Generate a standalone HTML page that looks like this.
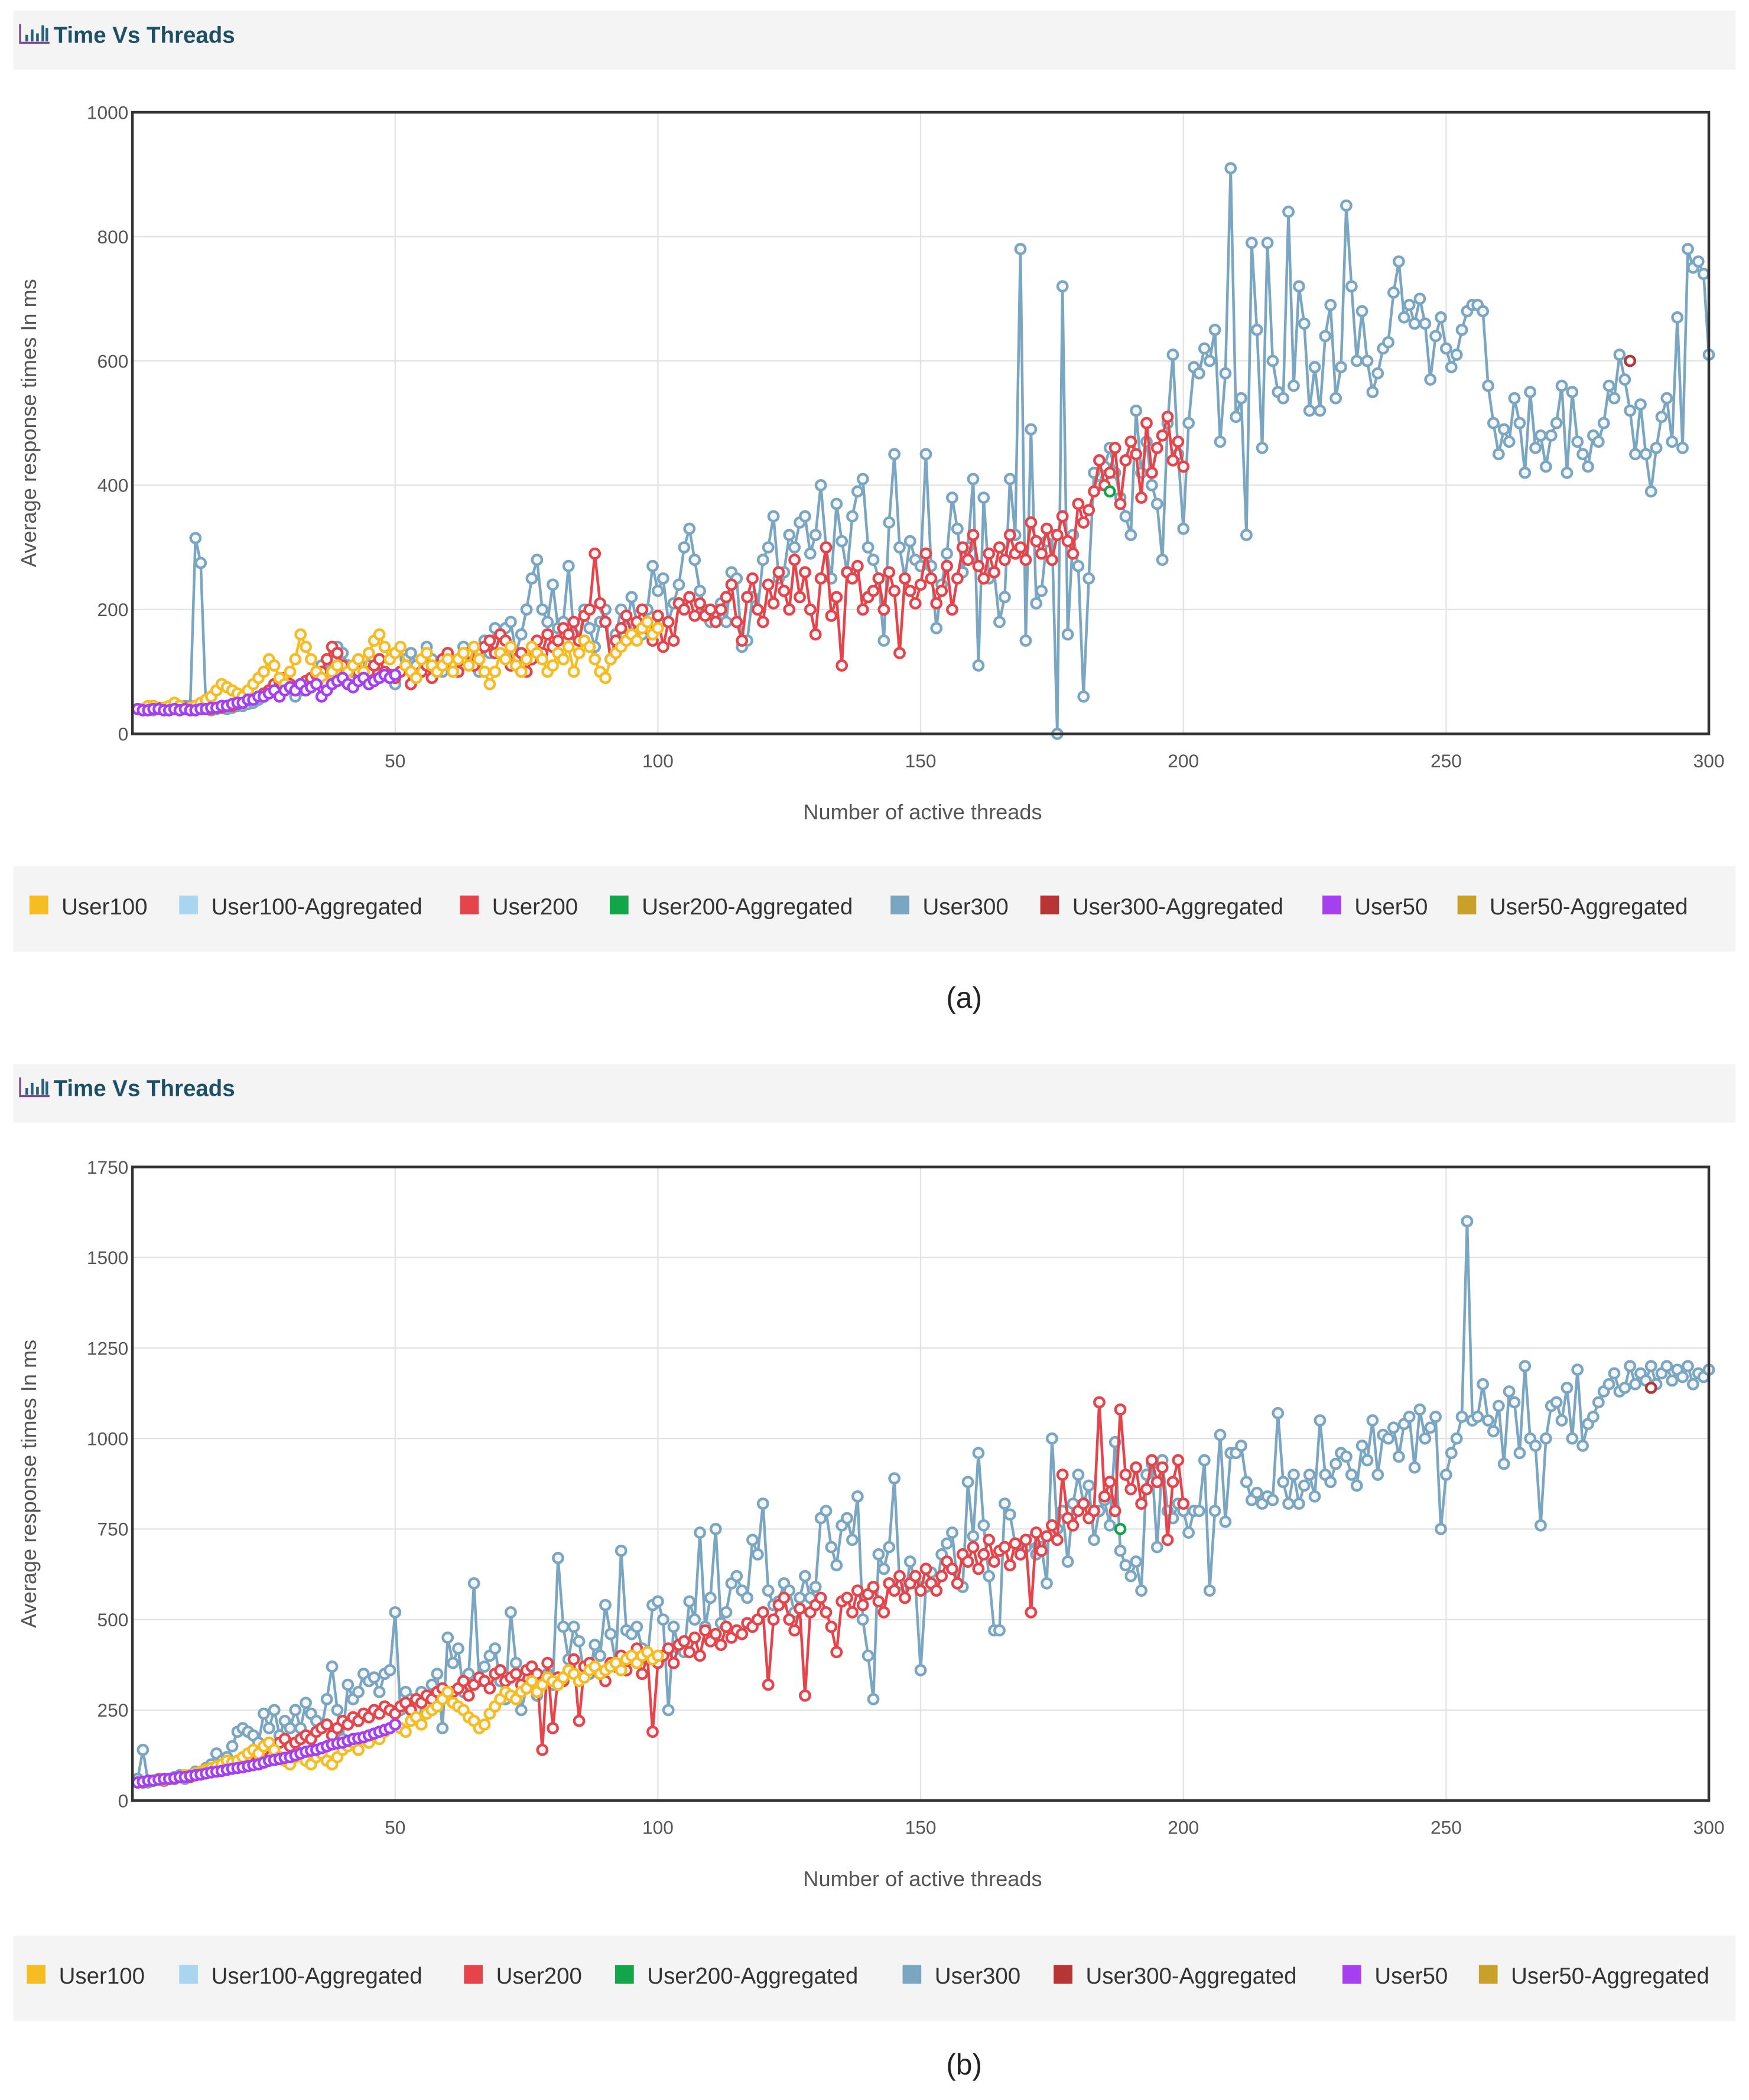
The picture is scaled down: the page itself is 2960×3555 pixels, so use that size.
<!DOCTYPE html>
<html><head><meta charset="utf-8"><style>
html,body{margin:0;padding:0;background:#fff;}
svg{display:block;font-family:"Liberation Sans",sans-serif;}
</style></head><body>
<svg id="root" width="2960" height="3555" viewBox="0 0 1308 1571" xmlns="http://www.w3.org/2000/svg"></svg>
<script>
// ---------- Chart (a) data ----------
const aUser300 = [40,40,40,38,40,42,40,40,42,45, 45,315,275,40,38,40,42,40,42,45, 45,48,50,55,60,70,80,90,85,75, 60,70,80,90,100,110,100,120,140,130, 110,100,120,90,110,100,120,100,90,80, 100,120,130,110,100,140,120,110,100,130, 110,100,140,120,110,100,150,130,170,160, 170,180,130,160,200,250,280,200,180,240, 170,180,270,160,150,200,170,140,180,200, 120,160,200,170,220,180,160,200,270,230, 250,180,210,240,300,330,280,230,200,180, 190,210,180,260,250,140,150,220,200,280, 300,350,250,260,320,300,340,350,290,320, 400,300,250,370,310,260,350,390,410,300, 280,250,150,340,450,300,250,310,280,270, 450,270,170,240,290,380,330,260,300,410, 110,380,250,260,180,220,410,320,780,150, 490,210,230,310,320,0,720,160,320,270, 60,250,420,400,430,460,420,380,350,320, 520,420,470,400,370,280,500,610,450,330, 500,590,580,620,600,650,470,580,910,510, 540,320,790,650,460,790,600,550,540,840, 560,720,660,520,590,520,640,690,540,590, 850,720,600,680,600,550,580,620,630,710, 760,670,690,660,700,660,570,640,670,620, 590,610,650,680,690,690,680,560,500,450, 490,470,540,500,420,550,460,480,430,480, 500,560,420,550,470,450,430,480,470,500, 560,540,610,570,520,450,530,450,390,460, 510,540,470,670,460,780,750,760,740,610];
const aUser200 = [40,40,40,40,42,42,40,40,40,42, 42,45,45,40,40,42,42,45,45,48, 50,55,55,60,65,70,80,85,90,80, 75,80,85,90,95,100,120,140,130,110, 100,110,100,90,100,110,120,100,95,90, 100,110,80,90,100,110,90,100,120,130, 110,100,120,130,110,120,140,150,130,160, 150,110,120,130,100,120,150,130,160,140, 150,170,160,180,150,190,200,290,210,180, 120,150,170,190,160,180,200,170,150,190, 140,180,150,210,200,220,190,210,190,200, 180,200,220,240,180,150,220,250,200,180, 240,210,260,230,200,280,220,260,200,160, 250,300,190,220,110,260,250,270,200,220, 230,250,200,260,230,130,250,230,210,240, 290,250,210,230,270,200,250,300,280,320, 270,250,290,260,300,280,320,290,300,280, 340,310,290,330,280,320,350,310,290,370, 340,360,390,440,400,420,460,370,440,470, 450,380,500,420,460,480,510,440,470,430];
const aUser100 = [40,40,45,45,40,42,45,50,45,40, 42,45,50,55,60,70,80,75,70,65, 60,70,80,90,100,120,110,90,80,100, 120,160,140,120,100,90,80,100,110,90, 100,110,120,100,130,150,160,140,120,130, 140,110,100,90,120,130,110,100,110,120, 100,120,130,110,140,120,100,80,100,130, 120,140,110,100,120,140,130,120,100,110, 130,120,140,100,130,150,140,120,100,90, 120,130,140,150,160,150,170,180,160,170];
const aUser50 = [40,38,38,40,40,38,38,40,38,40, 38,38,40,40,42,42,45,45,48,50, 50,55,55,60,60,65,70,60,70,75, 70,80,70,75,80,60,70,80,85,90, 80,75,85,90,80,85,90,95,90,95];
const aAggX = [186, 285];
const aAggY = [390, 600];

// ---------- Chart (b) data ----------
const bUser300 = [60,140,50,55,60,55,60,65,70,60, 70,80,75,90,100,130,110,120,150,190, 200,190,180,160,240,200,250,180,220,200, 250,200,270,240,220,200,280,370,250,170, 320,280,300,350,330,340,300,350,360,520, 250,300,280,250,300,260,320,350,200,450, 380,420,300,350,600,330,370,400,420,330, 280,520,380,250,310,330,290,340,350,320, 670,480,390,480,440,340,350,430,400,540, 460,380,690,470,460,480,420,390,540,550, 500,250,480,420,410,550,500,740,480,560, 750,490,520,600,620,580,560,720,680,820, 580,540,550,600,580,520,560,620,560,590, 780,800,700,650,760,780,720,840,500,400, 280,680,640,700,890,600,560,660,600,360, 590,630,580,680,710,740,600,590,880,730, 960,760,620,470,470,820,790,710,700,700, 720,680,700,600,1000,750,800,660,820,900, 820,870,720,800,830,760,990,690,650,620, 660,580,900,930,700,940,800,780,820,800, 740,800,800,940,580,800,1010,770,960,960, 980,880,830,850,820,840,830,1070,880,820, 900,820,870,900,840,1050,900,880,930,960, 950,900,870,980,940,1050,900,1010,1000,1030, 950,1040,1060,920,1080,1000,1030,1060,750,900, 960,1000,1060,1600,1050,1060,1150,1050,1020,1090, 930,1130,1100,960,1200,1000,980,760,1000,1090, 1100,1050,1140,1000,1190,980,1040,1060,1100,1130, 1150,1180,1130,1140,1200,1150,1180,1160,1200,1150, 1180,1200,1160,1190,1170,1200,1150,1180,1170,1190];
const bUser200 = [50,50,55,55,60,55,60,60,65,70, 65,70,75,80,85,90,95,100,100,110, 110,120,130,120,140,150,140,160,170,150, 160,170,180,170,190,200,210,180,200,220, 210,230,220,240,230,250,240,260,250,240, 260,270,250,280,270,290,280,300,310,290, 300,310,330,290,320,340,330,310,350,360, 330,340,350,320,360,370,350,140,380,200, 340,330,360,390,220,370,380,360,350,330, 380,370,400,360,390,420,350,400,190,380, 400,420,380,430,440,410,450,400,470,440, 460,430,480,450,470,460,490,480,500,520, 320,500,540,560,500,470,530,290,520,540, 560,520,480,410,550,560,520,580,540,570, 590,550,520,600,580,620,560,600,620,580, 640,600,580,620,660,640,600,680,660,700, 640,680,720,660,690,700,650,710,680,720, 520,740,690,730,760,720,900,780,760,800, 820,780,800,1100,840,880,800,1080,900,860, 920,820,860,940,880,920,720,880,940,820];
const bUser100 = [50,52,55,55,60,58,60,62,65,70, 70,75,80,85,90,95,100,110,105,110, 120,130,140,130,150,160,140,120,110,100, 120,130,110,100,120,130,110,100,120,140, 150,160,140,170,160,180,170,190,200,210, 200,190,220,230,210,240,250,260,280,300, 270,260,250,230,220,200,210,240,260,280, 300,290,280,300,310,330,300,320,340,330, 320,340,360,350,330,340,360,370,350,360, 370,380,360,390,400,380,400,410,390,400];
const bUser50 = [50,52,55,55,58,60,60,62,65,65, 68,70,72,75,78,80,82,85,88,90, 92,95,98,100,105,110,112,115,118,120, 125,130,135,138,140,145,150,155,158,160, 165,170,172,175,180,185,190,195,200,210];
const bAggX = [188, 289];
const bAggY = [750, 1140];

// ---------- drawing ----------
const NS = "http://www.w3.org/2000/svg";
const root = document.getElementById('root');
function mk(tag, attrs, parent){
  const e = document.createElementNS(NS, tag);
  for (const k in attrs) e.setAttribute(k, attrs[k]);
  (parent||root).appendChild(e);
  return e;
}
const COLORS = {u100:'#f5bd22', u100a:'#a9d5f0', u200:'#e5454a', u200a:'#12a54a', u300:'#7ba6c1', u300a:'#b83535', u50:'#a53ff0', u50a:'#c9a02a'};

function drawChart(cfg){
  const g = mk('g', {});
  
  
  const hb = mk('rect', {x:10, y:cfg.headY, width:1288, height:44, fill:'#f4f4f4'}, g);
  
  
  const ic = mk('g', {}, g);
  
  
  const iy = cfg.headY + 24;
  mk('path', {d:`M15 ${iy-14} V${iy} H37`, stroke:'#7a4a8a', 'stroke-width':1.5, fill:'none'}, ic);
  [[19,5],[23,9],[27,6],[31,12],[34,10]].forEach(b=>mk('rect',{x:b[0],y:iy-b[1]-1,width:2,height:b[1],fill:'#2a5f7a'},ic));
  const tt = mk('text', {x:40, y:iy, 'font-size':17, 'font-weight':'bold', fill:'#1d4f66'}, g);
  tt.textContent = 'Time Vs Threads';
  
  

  const L = 99, R = 1278, T = cfg.top, B = cfg.bottom;
  const xs = v => L + (v/300)*(R-L);
  const ys = v => B - (v/cfg.ymax)*(B-T);
  cfg.yticks.forEach(t=>{
    const gl = mk('line', {x1:L, x2:R, y1:ys(t), y2:ys(t), stroke:'#e2e2e2', 'stroke-width':1}, g);
    
    
    const tl = mk('text', {x:L-3, y:ys(t)+5, 'font-size':14, fill:'#555', 'text-anchor':'end'}, g);
    tl.textContent = t;
    
    
  });
  cfg.xticks.forEach(t=>{
    const gl = mk('line', {x1:xs(t), x2:xs(t), y1:T, y2:B, stroke:'#e2e2e2', 'stroke-width':1}, g);
    
    
    const tl = mk('text', {x:xs(t), y:B+25, 'font-size':14, fill:'#555', 'text-anchor':'middle'}, g);
    tl.textContent = t;
    
    
  });
  cfg.series.forEach(s=>{
    const sg = mk('g', {}, g);
    
    
    const pts = s.vals.map((v,i)=>[xs(i+1), ys(v)]);
    const ln = mk('polyline', {points:pts.map(p=>p.join(',')).join(' '), fill:'none', stroke:s.color, 'stroke-width':2}, sg);
    
    
    pts.forEach(p=>{
      const c = mk('circle', {cx:p[0], cy:p[1], r:3.6, fill:'#f4f8fb', stroke:s.color, 'stroke-width':2}, sg);
      
      
    });
  });
  [[COLORS.u200a,'user200-aggregated-point'],[COLORS.u300a,'user300-aggregated-point']].forEach((a,i)=>{
    const c = mk('circle', {cx:xs(cfg.aggX[i]), cy:ys(cfg.aggY[i]), r:3.6, fill:'#fff', stroke:a[0], 'stroke-width':2}, g);
    
    
  });
  const bd = mk('rect', {x:L, y:T, width:R-L, height:B-T, fill:'none', stroke:'#333', 'stroke-width':2}, g);
  
  
  const xt = mk('text', {x:690, y:B+64, 'font-size':16, fill:'#555', 'text-anchor':'middle'}, g);
  xt.textContent = 'Number of active threads';
  
  
  const cy = (T+B)/2;
  const yt = mk('text', {x:27, y:cy, 'font-size':16, fill:'#555', 'text-anchor':'middle', transform:`rotate(-90 27 ${cy})`}, g);
  yt.textContent = 'Average response times In ms';
  
  
  const lb = mk('rect', {x:10, y:cfg.legY, width:1288, height:64, fill:'#f4f4f4'}, g);
  
  
  cfg.legend.forEach(it=>{
    const lg = mk('g', {}, g);
    
    
    mk('rect', {x:it[1], y:cfg.legY+22, width:14, height:14, fill:it[2]}, lg);
    const lt = mk('text', {x:it[1]+24, y:cfg.legY+36, 'font-size':17, fill:'#333'}, lg);
    lt.textContent = it[0];
  });
  const cap = mk('text', {x:721, y:cfg.capY, 'font-size':22, fill:'#222', 'text-anchor':'middle'}, g);
  cap.textContent = cfg.caption;
  
  
}

drawChart({name:'chart-a', headY:8, top:84, bottom:549, ymax:1000,
  yticks:[0,200,400,600,800,1000], xticks:[50,100,150,200,250,300],
  series:[{name:'user300',color:COLORS.u300,vals:aUser300},{name:'user200',color:COLORS.u200,vals:aUser200},{name:'user100',color:COLORS.u100,vals:aUser100},{name:'user50',color:COLORS.u50,vals:aUser50}],
  aggX:aAggX, aggY:aAggY, legY:648, capY:754, caption:'(a)',
  legend:[['User100',22,COLORS.u100],['User100-Aggregated',134,COLORS.u100a],['User200',344,COLORS.u200],['User200-Aggregated',456,COLORS.u200a],['User300',666,COLORS.u300],['User300-Aggregated',778,COLORS.u300a],['User50',989,COLORS.u50],['User50-Aggregated',1090,COLORS.u50a]]});

drawChart({name:'chart-b', headY:796, top:873, bottom:1347, ymax:1750,
  yticks:[0,250,500,750,1000,1250,1500,1750], xticks:[50,100,150,200,250,300],
  series:[{name:'user300',color:COLORS.u300,vals:bUser300},{name:'user200',color:COLORS.u200,vals:bUser200},{name:'user100',color:COLORS.u100,vals:bUser100},{name:'user50',color:COLORS.u50,vals:bUser50}],
  aggX:bAggX, aggY:bAggY, legY:1448, capY:1552, caption:'(b)',
  legend:[['User100',20,COLORS.u100],['User100-Aggregated',134,COLORS.u100a],['User200',347,COLORS.u200],['User200-Aggregated',460,COLORS.u200a],['User300',675,COLORS.u300],['User300-Aggregated',788,COLORS.u300a],['User50',1004,COLORS.u50],['User50-Aggregated',1106,COLORS.u50a]]});
</script>
</body></html>
